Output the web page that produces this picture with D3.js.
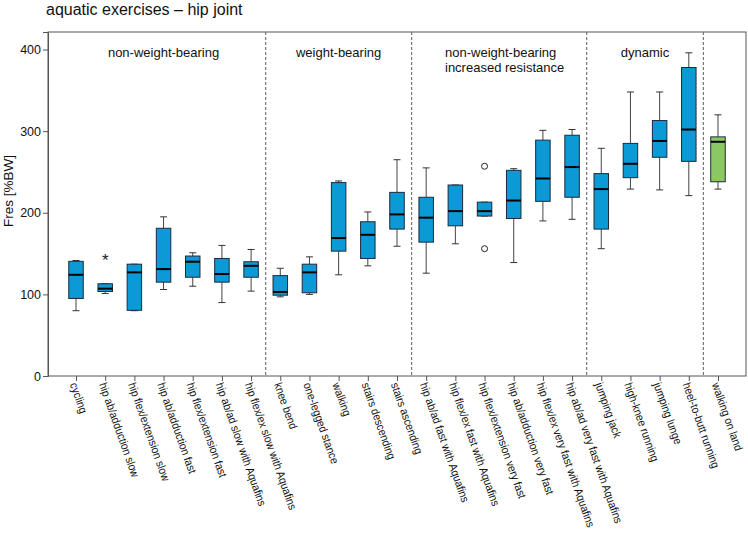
<!DOCTYPE html>
<html><head><meta charset="utf-8">
<script src="https://cdn.jsdelivr.net/npm/d3@7"></script>
<style>body{margin:0;background:#fff;} svg{display:block;font-family:"Liberation Sans",Arial,sans-serif;}</style>
</head><body>
<svg id="c" width="748" height="533"></svg>
<script>
const categories = ["cycling","hip ab/adduction slow","hip flex/extension slow","hip ab/adduction fast","hip flex/extension fast","hip ab/ad slow with Aquafins","hip flex/ex slow with Aquafins","knee bend","one-legged stance","walking","stairs descending","stairs ascending","hip ab/ad fast with Aquafins","hip flex/ex fast with Aquafins","hip flex/extension very fast","hip ab/adduction very fast","hip flex/ex very fast with Aquafins","hip ab/ad very fast with Aquafins","jumping jack","high-knee running","jumping lunge","heel-to-butt running","walking on land"];
const minV    = [80, 101, 80, 106, 110, 90, 104, 97, 100, 124, 135, 159, 126, 162, 196, 139, 190, 192, 156, 229, 228, 221, 229];
const q1V     = [95, 103.5, 80.5, 115, 121, 115, 121, 99, 102, 153, 144, 180, 164, 184, 196, 193, 214, 219, 180, 243, 268, 263, 238];
const medianV = [124, 107, 127, 131, 140, 125, 135, 103, 127, 169, 173, 198, 194, 202, 202, 215, 242, 256, 229, 260, 288, 302, 287];
const q3V     = [140.5, 113, 137, 181, 147, 144, 140, 123, 137, 237, 189, 225, 219, 234, 213, 252, 289, 295, 248, 285, 313, 378, 293];
const maxV    = [141.5, 113, 137, 195, 151, 160, 155, 132, 146, 239, 201, 265, 255, 234, 213, 254, 301, 302, 279, 348, 348, 396, 320];
const extremes = [{cat:"hip ab/adduction slow", v:145}];
const outliers = [{cat:"hip flex/extension very fast", v:257},{cat:"hip flex/extension very fast", v:156}];
const groups = [
  {lines:["non-weight-bearing"], from:0, to:6, align:"middle"},
  {lines:["weight-bearing"], from:7, to:11, align:"middle"},
  {lines:["non-weight-bearing","increased resistance"], from:12, to:17, align:"start"},
  {lines:["dynamic"], from:18, to:21, align:"middle"}
];
const separatorsAfter = [6, 11, 17, 21];
const yTicks = [0,100,200,300,400];
const landCategory = "walking on land";

const svg = d3.select("#c");
const L = 48, R = 746, T = 32, B = 376;
const x = d3.scalePoint().domain(categories).range([L, R]).padding(0.96);
const y = d3.scaleLinear().domain([0, 421.5]).range([B, T]);
const step = x.step();
const bw = 14.5;

svg.append("text").attr("x", 46).attr("y", 15).attr("font-size", 16).attr("fill", "#111")
  .text("aquatic exercises \u2013 hip joint");

// frame
svg.append("rect").attr("x", L).attr("y", T).attr("width", R - L).attr("height", B - T)
  .attr("fill", "none").attr("stroke", "#555").attr("stroke-width", 1);

// separators
separatorsAfter.forEach(i => {
  const sx = x(categories[i]) + step / 2;
  svg.append("line").attr("x1", sx).attr("x2", sx).attr("y1", T).attr("y2", B)
    .attr("stroke", "#777").attr("stroke-dasharray", "3,2").attr("stroke-width", 1.2);
});

// group labels
groups.forEach(g => {
  const cx = (x(categories[g.from]) + x(categories[g.to])) / 2;
  const t = svg.append("text").attr("font-size", 13).attr("fill", "#111");
  if (g.align === "start") {
    t.attr("text-anchor", "start");
    g.lines.forEach((ln, i) => t.append("tspan").attr("x", 445).attr("y", 57 + i * 15).text(ln));
  } else {
    t.attr("text-anchor", "middle");
    g.lines.forEach((ln, i) => t.append("tspan").attr("x", cx).attr("y", 57 + i * 15).text(ln));
  }
});

// y axis
const yAxis = svg.append("g").attr("transform", `translate(${L},0)`)
  .call(d3.axisLeft(y).tickValues(yTicks).tickSize(5).tickPadding(2).tickFormat(d3.format("d")));
yAxis.select(".domain").attr("stroke", "#555");
yAxis.selectAll(".tick line").attr("stroke", "#555");
yAxis.selectAll("text").attr("font-size", 12.5).attr("fill", "#111").attr("font-family", "Liberation Sans, Arial, sans-serif");

svg.append("text").attr("transform", `translate(13,${191}) rotate(-90)`)
  .attr("text-anchor", "middle").attr("font-size", 13.5).attr("fill", "#111").text("Fres [%BW]");

// x axis
const xAxis = svg.append("g").attr("transform", `translate(0,${B})`)
  .call(d3.axisBottom(x).tickSize(5).tickPadding(3));
xAxis.select(".domain").remove();
xAxis.selectAll(".tick line").attr("stroke", "#555");
xAxis.selectAll("text").attr("font-size", 11.5).attr("fill", "#111")
  .attr("font-family", "Liberation Sans, Arial, sans-serif")
  .attr("text-anchor", "start").attr("dy", "0.35em")
  .attr("transform", "translate(-3,7) rotate(70.5) scale(0.9,1)").attr("x", 0).attr("y", 0);

// boxes
const data = categories.map((c, i) => ({c, min:minV[i], q1:q1V[i], med:medianV[i], q3:q3V[i], max:maxV[i]}));
const gBox = svg.append("g");
data.forEach(d => {
  const cx = x(d.c);
  const fill = d.c === landCategory ? "#8cc862" : "#0c9ad6";
  const g = gBox.append("g");
  g.append("line").attr("x1", cx).attr("x2", cx).attr("y1", y(d.max)).attr("y2", y(d.q3)).attr("stroke", "#444");
  g.append("line").attr("x1", cx).attr("x2", cx).attr("y1", y(d.q1)).attr("y2", y(d.min)).attr("stroke", "#444");
  g.append("line").attr("x1", cx - 3.5).attr("x2", cx + 3.5).attr("y1", y(d.max)).attr("y2", y(d.max)).attr("stroke", "#333");
  g.append("line").attr("x1", cx - 3.5).attr("x2", cx + 3.5).attr("y1", y(d.min)).attr("y2", y(d.min)).attr("stroke", "#333");
  g.append("rect").attr("x", cx - bw / 2).attr("y", y(d.q3)).attr("width", bw)
    .attr("height", Math.max(1, y(d.q1) - y(d.q3))).attr("fill", fill).attr("stroke", "#1c2b3a").attr("stroke-width", 1);
  g.append("line").attr("x1", cx - bw / 2).attr("x2", cx + bw / 2).attr("y1", y(d.med)).attr("y2", y(d.med))
    .attr("stroke", "#000").attr("stroke-width", 2);
});

outliers.forEach(o => {
  svg.append("circle").attr("cx", x(o.cat)).attr("cy", y(o.v)).attr("r", 3)
    .attr("fill", "none").attr("stroke", "#222").attr("stroke-width", 1);
});
extremes.forEach(o => {
  svg.append("text").attr("x", x(o.cat)).attr("y", y(o.v) + 8).attr("text-anchor", "middle")
    .attr("font-size", 17).attr("fill", "#222").text("*");
});
</script>
</body></html>
